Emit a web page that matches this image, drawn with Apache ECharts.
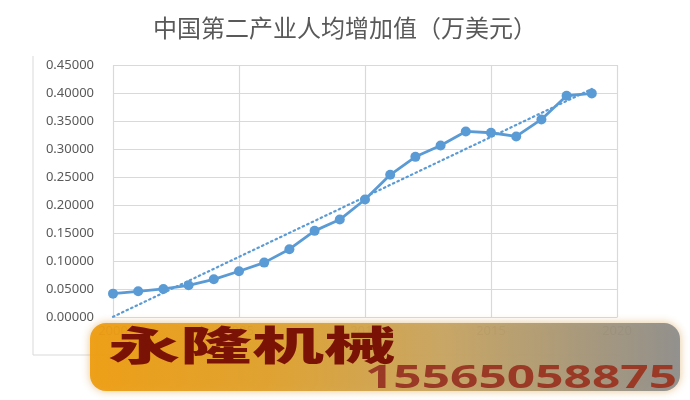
<!DOCTYPE html>
<html>
<head>
<meta charset="utf-8">
<script src="https://cdn.jsdelivr.net/npm/echarts@6/dist/echarts.min.js"></script>
<style>
html,body{margin:0;padding:0;background:#fff;}
#c{width:690px;height:400px;}
</style>
</head>
<body>
<div id="c"></div>
<script>
var titleText = '中国第二产业人均增加值（万美元）';
var years = [2000,2001,2002,2003,2004,2005,2006,2007,2008,2009,2010,2011,2012,2013,2014,2015,2016,2017,2018,2019];
var values = [0.0417,0.0459,0.0501,0.0566,0.0673,0.0817,0.0971,0.1210,0.1538,0.1740,0.2098,0.2539,0.2860,0.3063,0.3314,0.3290,0.3224,0.3528,0.3951,0.3993];
var xTicks = [2000,2005,2010,2015,2020];
var yTicks = [0,0.05,0.10,0.15,0.20,0.25,0.30,0.35,0.40,0.45];
var bannerName = '永隆机械';
var bannerPhone = '15565058875';

// linear trendline (least squares over the data, as the spreadsheet trendline)
var n = years.length, sx = 0, sy = 0, sxy = 0, sxx = 0;
for (var i = 0; i < n; i++) { sx += years[i]; sy += values[i]; sxy += years[i]*values[i]; sxx += years[i]*years[i]; }
var slope = (n*sxy - sx*sy) / (n*sxx - sx*sx);
var icpt = (sy - slope*sx) / n;
var trend = [[years[0], icpt + slope*years[0]], [years[n-1], icpt + slope*years[n-1]]];

var mainData = years.map(function(y, i){ return [y, values[i]]; });
var blue = '#5B9BD5';
var grey = '#595959';
var gridC = '#d9d9d9';

var chart = echarts.init(document.getElementById('c'));
chart.setOption({
  animation: false,
  backgroundColor: '#ffffff',
  title: {
    text: titleText, left: 'center', top: 11,
    textStyle: { fontFamily: 'Noto Sans CJK SC', fontSize: 24, fontWeight: 'normal', color: grey }
  },
  grid: { left: 113, right: 73, top: 65, bottom: 83 },
  xAxis: {
    type: 'value', min: xTicks[0], max: xTicks[xTicks.length-1], interval: 5,
    axisLine: { show: true, lineStyle: { color: gridC, width: 1.2 } },
    axisTick: { show: false },
    splitLine: { show: true, lineStyle: { color: gridC, width: 1.2 } },
    axisLabel: { color: grey, fontSize: 13, fontFamily: 'Noto Sans', margin: 8, formatter: function(v){ return String(v); } }
  },
  yAxis: {
    type: 'value', min: yTicks[0], max: yTicks[yTicks.length-1], interval: 0.05,
    axisLine: { show: false }, axisTick: { show: false },
    splitLine: { show: true, lineStyle: { color: gridC, width: 1.2 } },
    axisLabel: { color: grey, fontSize: 13, fontFamily: 'Noto Sans', margin: 19, formatter: function(v){ return v.toFixed(5); } }
  },
  series: [
    {
      type: 'line', data: trend, symbol: 'none', z: 2,
      lineStyle: { color: blue, width: 2.2, type: [1.5, 3.5], cap: 'round' }
    },
    {
      type: 'line', data: mainData, symbol: 'circle', symbolSize: 10, z: 3,
      itemStyle: { color: blue }, lineStyle: { color: blue, width: 2.8 }
    }
  ],
  graphic: [
    { type: 'polyline', z: 1, shape: { points: [[33,56],[33,355],[620,355]] }, style: { stroke: gridC, lineWidth: 1, fill: null } },
    { type: 'rect', z: 100, shape: { x: 90, y: 323, width: 590, height: 68, r: 16 },
      style: {
        fill: new echarts.graphic.LinearGradient(0,0,1,0,[
          {offset:0, color:'#EE9C0E'},{offset:0.3, color:'#DFA02A'},{offset:0.6, color:'#C6A462'},{offset:1, color:'#8C8C8C'}
        ]),
        opacity: 0.93, shadowBlur: 8, shadowColor: 'rgba(210,150,60,0.6)'
      }
    },
    { type: 'text', z: 101, x: 108, y: 325, scaleX: 1.8,
      style: { text: bannerName, fill: '#7A1206', fontSize: 40, fontWeight: 900, fontFamily: 'Noto Sans CJK SC', textVerticalAlign: 'top' } },
    { type: 'text', z: 101, x: 365, y: 379, scaleX: 1.55,
      style: { text: bannerPhone, fill: '#9A3A26', fontSize: 32, fontWeight: 'bold', fontFamily: 'Noto Sans', textVerticalAlign: 'middle' } }
  ]
});
</script>
</body>
</html>
